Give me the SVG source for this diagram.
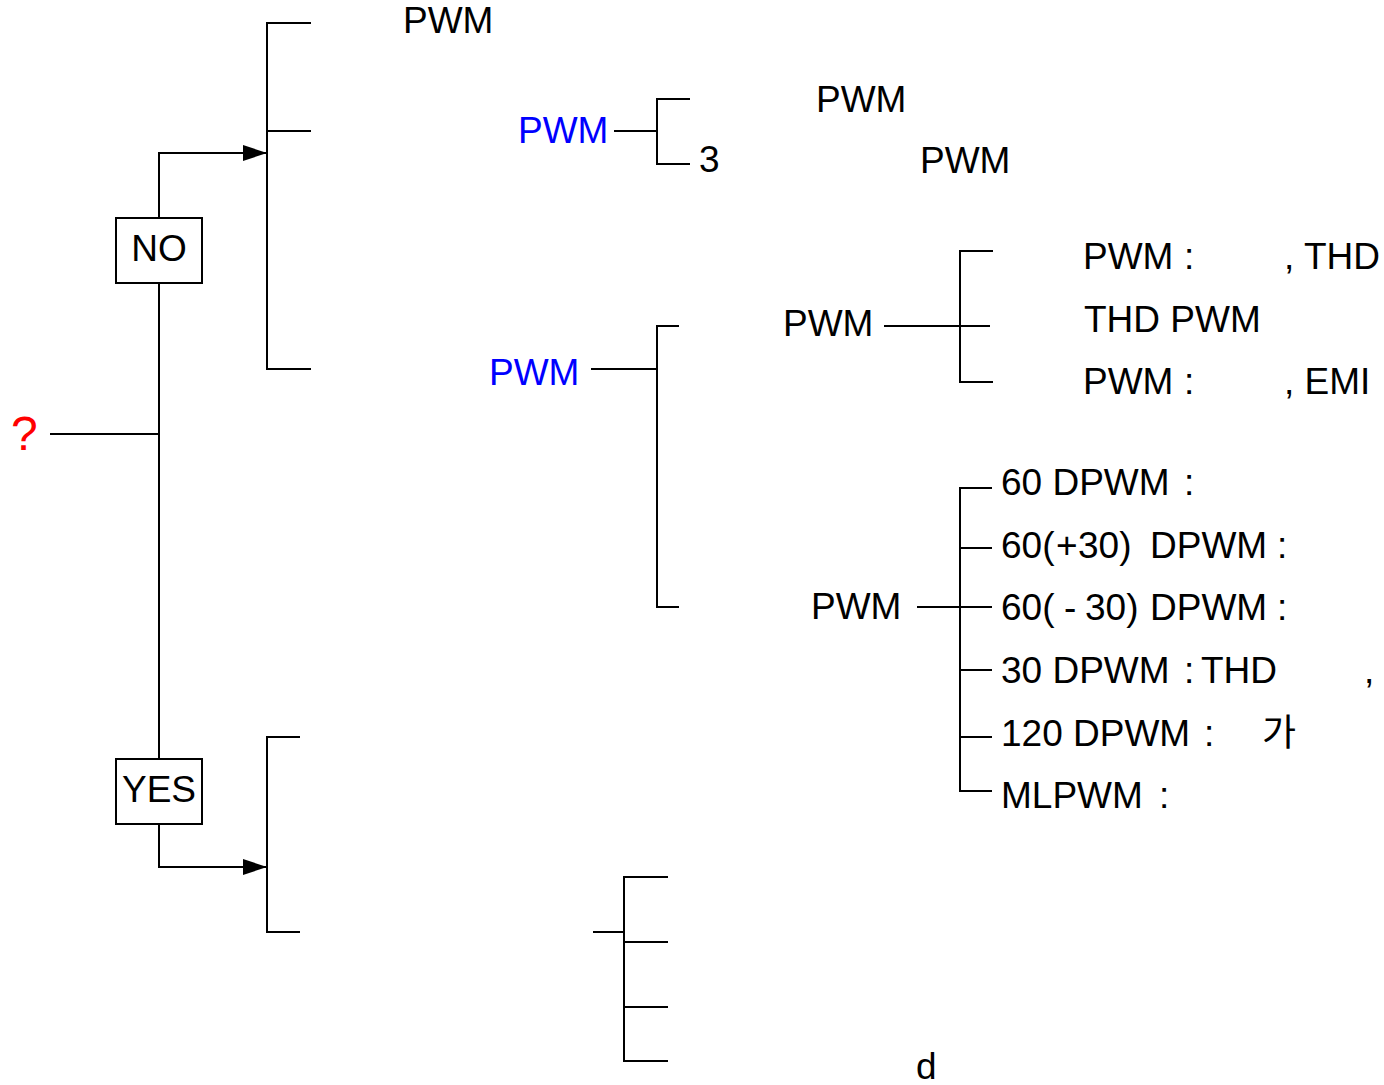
<svg xmlns="http://www.w3.org/2000/svg" width="1384" height="1085" viewBox="0 0 1384 1085">
<style>
text{font-family:"Liberation Sans","Noto Sans CJK KR",Arial,sans-serif;font-size:37px;fill:#000}
.blue{fill:#0000ff}
.red{fill:#ff0000;font-size:48px}
.ln{stroke:#000;stroke-width:2;fill:none}
.box{stroke:#000;stroke-width:2;fill:#fff}
</style>
<defs>
<marker id="arr" viewBox="0 0 24 16" refX="24" refY="8" markerWidth="24" markerHeight="16" markerUnits="userSpaceOnUse" orient="auto">
<path d="M0,0 L24,8 L0,16 Z" fill="#000"/>
</marker>
</defs>
<rect width="1384" height="1085" fill="#fff"/>
<g id="connectors">
<line class="ln" x1="50" y1="434" x2="159" y2="434"/>
<path class="ln" d="M159,218 V153 H267" marker-end="url(#arr)"/>
<line class="ln" x1="159" y1="283" x2="159" y2="759"/>
<path class="ln" d="M159,824 V867 H267" marker-end="url(#arr)"/>
<path class="ln" d="M311,23 H267 V369 H311 M267,131 H311"/>
<path class="ln" d="M300,737 H267 V932 H300"/>
<path class="ln" d="M614,131 H657 M690,99 H657 V164 H690"/>
<path class="ln" d="M591,369 H657 M679,326 H657 V607 H679"/>
<path class="ln" d="M884,326 H990 M993,251 H960 V382 H993"/>
<path class="ln" d="M917,607 H992 M992,488 H960 V791 H992 M960,548 H992 M960,670 H992 M960,737 H992"/>
<path class="ln" d="M593,932 H624 M668,877 H624 V1061 H668 M624,942 H668 M624,1007 H668"/>
</g>
<g id="n-question"><text class="red" x="11" y="450">?</text></g>
<g id="n-no"><rect class="box" x="116" y="218" width="86" height="65"/><text x="159" y="261" text-anchor="middle">NO</text></g>
<g id="n-yes"><rect class="box" x="116" y="759" width="86" height="65"/><text x="159" y="802" text-anchor="middle">YES</text></g>
<g id="n-pwm1"><text x="403" y="33">PWM</text></g>
<g id="n-pwm-blue1"><text class="blue" x="518" y="143">PWM</text></g>
<g id="n-3"><text x="699" y="172">3</text></g>
<g id="n-pwm2"><text x="816" y="112">PWM</text></g>
<g id="n-pwm3"><text x="920" y="173">PWM</text></g>
<g id="n-pwm-blue2"><text class="blue" x="489" y="385">PWM</text></g>
<g id="n-pwm4"><text x="783" y="336">PWM</text></g>
<g id="n-r1"><text y="269"><tspan x="1083">PWM</tspan><tspan x="1184">:</tspan><tspan x="1284">, THD</tspan></text></g>
<g id="n-r2"><text x="1084" y="332">THD PWM</text></g>
<g id="n-r3"><text y="394"><tspan x="1083">PWM</tspan><tspan x="1184">:</tspan><tspan x="1284">, EMI</tspan></text></g>
<g id="n-pwm5"><text x="811" y="619">PWM</text></g>
<g id="n-d1"><text y="495"><tspan x="1001">60 DPWM</tspan><tspan x="1184">:</tspan></text></g>
<g id="n-d2"><text y="558"><tspan x="1001">60(</tspan><tspan x="1056">+</tspan><tspan x="1078">30)</tspan><tspan x="1150">DPWM</tspan><tspan x="1277">:</tspan></text></g>
<g id="n-d3"><text y="620"><tspan x="1001">60(</tspan><tspan x="1064">-</tspan><tspan x="1085">30)</tspan><tspan x="1150">DPWM</tspan><tspan x="1277">:</tspan></text></g>
<g id="n-d4"><text y="683"><tspan x="1001">30 DPWM</tspan><tspan x="1184">:</tspan><tspan x="1201">THD</tspan><tspan x="1364">,</tspan></text></g>
<g id="n-d5"><text y="746"><tspan x="1001">120 DPWM</tspan><tspan x="1204">:</tspan><tspan x="1262">가</tspan></text></g>
<g id="n-d6"><text y="808"><tspan x="1001">MLPWM</tspan><tspan x="1159">:</tspan></text></g>
<g id="n-d"><text x="916" y="1079">d</text></g>
</svg>
